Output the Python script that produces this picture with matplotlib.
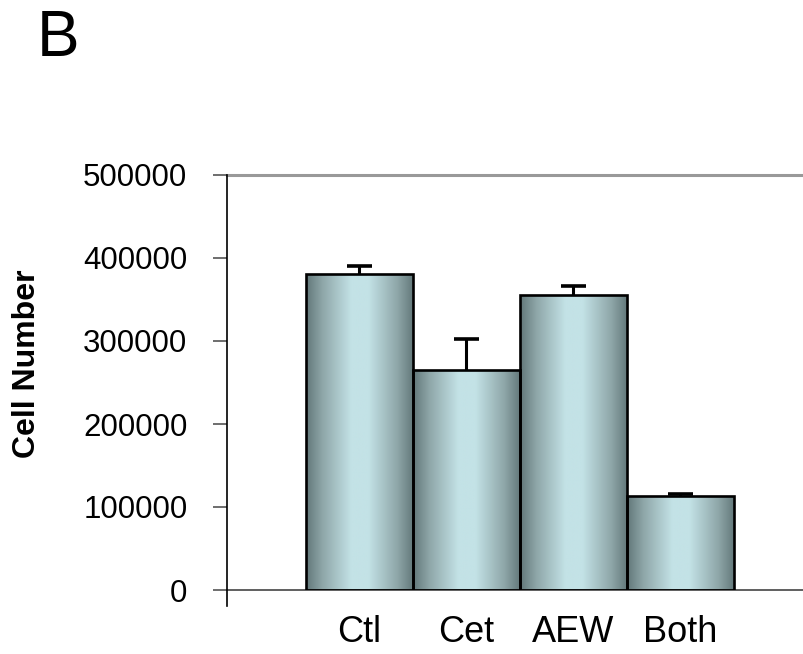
import numpy as np
import matplotlib
matplotlib.use("Agg")
import matplotlib.pyplot as plt
from matplotlib.colors import LinearSegmentedColormap
from matplotlib.lines import Line2D

categories = ["Ctl", "Cet", "AEW", "Both"]
values = [381000, 265000, 355500, 113000]
errors = [9500, 38000, 11000, 2500]
yticks = [0, 100000, 200000, 300000, 400000, 500000]

plt.rcParams['font.family'] = ['Liberation Sans', 'DejaVu Sans']

fig = plt.figure(figsize=(8.04, 6.54), dpi=100)
W, H = 804, 654
ax = fig.add_axes([227 / W, (H - 590) / H, 577 / W, 415 / H])

x = np.arange(len(categories))
vals = np.array(values)
errs = np.array(errors)
bars = ax.bar(x, vals, width=1.0, facecolor='none', edgecolor='black',
              linewidth=1.9, zorder=3)

cmap = LinearSegmentedColormap.from_list(
    "grad", [(0.0, "#627779"), (0.15, "#8ea6a8"), (0.42, "#c3e2e6"),
             (0.58, "#c3e2e6"), (0.85, "#8ea6a8"), (1.0, "#627779")])
grad = np.linspace(0, 1, 256).reshape(1, -1)
for b in bars:
    bx, by = b.get_x(), b.get_y()
    bw, bh = b.get_width(), b.get_height()
    im = ax.imshow(grad, cmap=cmap, aspect='auto',
                   extent=[bx, bx + bw, by, by + bh], zorder=2,
                   interpolation='bilinear')
    im.set_clip_path(b)

# upper-only error bars
ax.vlines(x, vals, vals + errs, color='black', linewidth=2.2, zorder=4)
ax.hlines(vals + errs, x - 0.117, x + 0.117, color='black', linewidth=2.6, zorder=4)

ax.set_xlim(-1.234, 4.154)
ax.set_ylim(0, 500000)
ax.set_yticks(yticks)
ax.set_yticklabels([str(v) for v in yticks], fontsize=22.5)
ax.set_xticks(x)
ax.set_xticklabels(categories, fontsize=26)
ax.tick_params(axis='x', length=0, pad=18)
ax.tick_params(axis='y', length=10, width=1.2, color='#555555', direction='out', pad=18.5)

for s in ['top', 'right', 'left']:
    ax.spines[s].set_visible(False)
ax.spines['bottom'].set_color('#444444')
ax.spines['bottom'].set_linewidth(1.2)

ax.axhline(500000, color='#999999', linewidth=2.2, zorder=1, clip_on=False)
ax.add_line(Line2D([0, 0], [-16 / 415, 1], transform=ax.transAxes,
                   color='black', linewidth=1.2, clip_on=False, zorder=5))

ax.set_ylabel("Cell Number", fontsize=23, fontweight='bold')
ax.yaxis.set_label_coords((42 - 227) / 577, (590 - 364) / 415)

fig.text(37 / W, 1 - 56 / H, "B", fontsize=46, ha='left', va='baseline')

fig.savefig("out.png", dpi=100)
